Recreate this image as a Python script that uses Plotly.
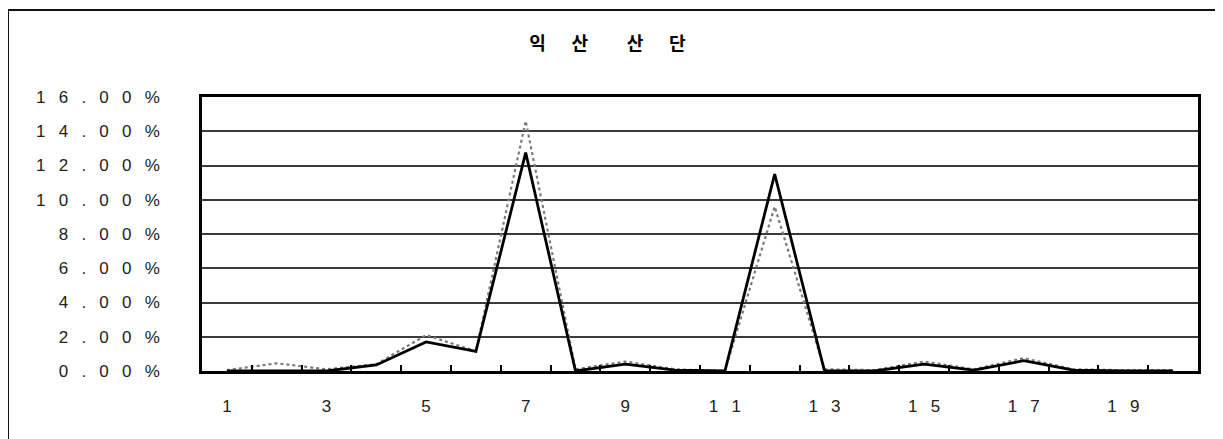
import plotly.graph_objects as go

categories = list(range(1, 21))
series_solid = [0, 0, 0, 0.35, 1.7, 1.15, 12.75, 0, 0.4, 0.05, 0, 11.5, 0, 0, 0.4, 0.05, 0.6, 0.05, 0, 0]
series_dotted = [0.05, 0.45, 0.1, 0.4, 2.1, 1.15, 14.6, 0.1, 0.55, 0.1, 0.0, 9.6, 0.1, 0.05, 0.55, 0.1, 0.75, 0.1, 0.05, 0.05]
y_ticks = [0, 2, 4, 6, 8, 10, 12, 14, 16]
y_tick_labels = ["0.00%", "2.00%", "4.00%", "6.00%", "8.00%", "10.00%", "12.00%", "14.00%", "16.00%"]
x_ticks = [1, 3, 5, 7, 9, 11, 13, 15, 17, 19]
title_chars = ["익", "산", "산", "단"]

SP = "\u2002 "


def spaced(s):
    return SP.join(list(s))


fig = go.Figure()
fig.add_trace(go.Scatter(x=categories, y=series_dotted, mode="lines",
                         line=dict(color="#7a7a7a", width=2.2, dash="dot"),
                         showlegend=False))
fig.add_trace(go.Scatter(x=categories, y=series_solid, mode="lines", xaxis="x2",
                         line=dict(color="#000000", width=2.8),
                         showlegend=False))

OFF = 8  # page body offset
W, H = 1223, 439
L, R, T, B = 202 - OFF, 25 + OFF, 97 - OFF, 68 + OFF
pw = W - L - R
ph = H - T - B

sep = "\u3000\u2009 "
t = title_chars[0] + sep + title_chars[1] + sep + "\u2002 " + title_chars[2] + sep + title_chars[3]

fig.update_layout(
    width=W, height=H,
    margin=dict(l=L, r=R, t=T, b=B, autoexpand=False),
    paper_bgcolor="white", plot_bgcolor="white",
    title=dict(text=t, x=0.5 - (OFF + 4) / W, xref="container", xanchor="center",
               y=1 - (44 - OFF) / H, yref="container", yanchor="middle",
               font=dict(family="Noto Sans CJK KR", size=18, color="#000000", weight="bold")),
    xaxis=dict(range=[0.5, 20.5], tickvals=[c + 0.5 for c in categories[:-1]],
               ticktext=["" for _ in categories[:-1]],
               ticks="inside", ticklen=6, tickwidth=1.5, tickcolor="#000000",
               showgrid=False, zeroline=False,
               showline=True, linecolor="#000000", linewidth=2.5, mirror=True),
    xaxis2=dict(range=[0.5, 20.5], overlaying="x", side="bottom", anchor="y",
                tickvals=x_ticks, ticktext=[spaced(str(v)) for v in x_ticks],
                ticks="", showgrid=False, zeroline=False, showline=False,
                ticklabelstandoff=23,
                tickfont=dict(family="Liberation Sans", size=17, color="#222222")),
    yaxis=dict(range=[0, 16], tickvals=y_ticks,
               ticktext=[spaced(s) for s in y_tick_labels],
               ticks="", showgrid=True, gridcolor="#3a3a3a", gridwidth=1.6,
               zeroline=False,
               showline=True, linecolor="#000000", linewidth=2.5, mirror=True,
               ticklabelstandoff=36,
               tickfont=dict(family="Liberation Sans", size=17, color="#222222")),
)

# outer chart border
fig.add_shape(type="rect", xref="paper", yref="paper",
              x0=(8 - 202) / pw, x1=(1218 - 202) / pw,
              y0=(371 - 460) / ph, y1=(371 - 10) / ph,
              line=dict(color="#111111", width=2), fillcolor="rgba(0,0,0,0)", layer="above")

fig.write_html("out.html")
